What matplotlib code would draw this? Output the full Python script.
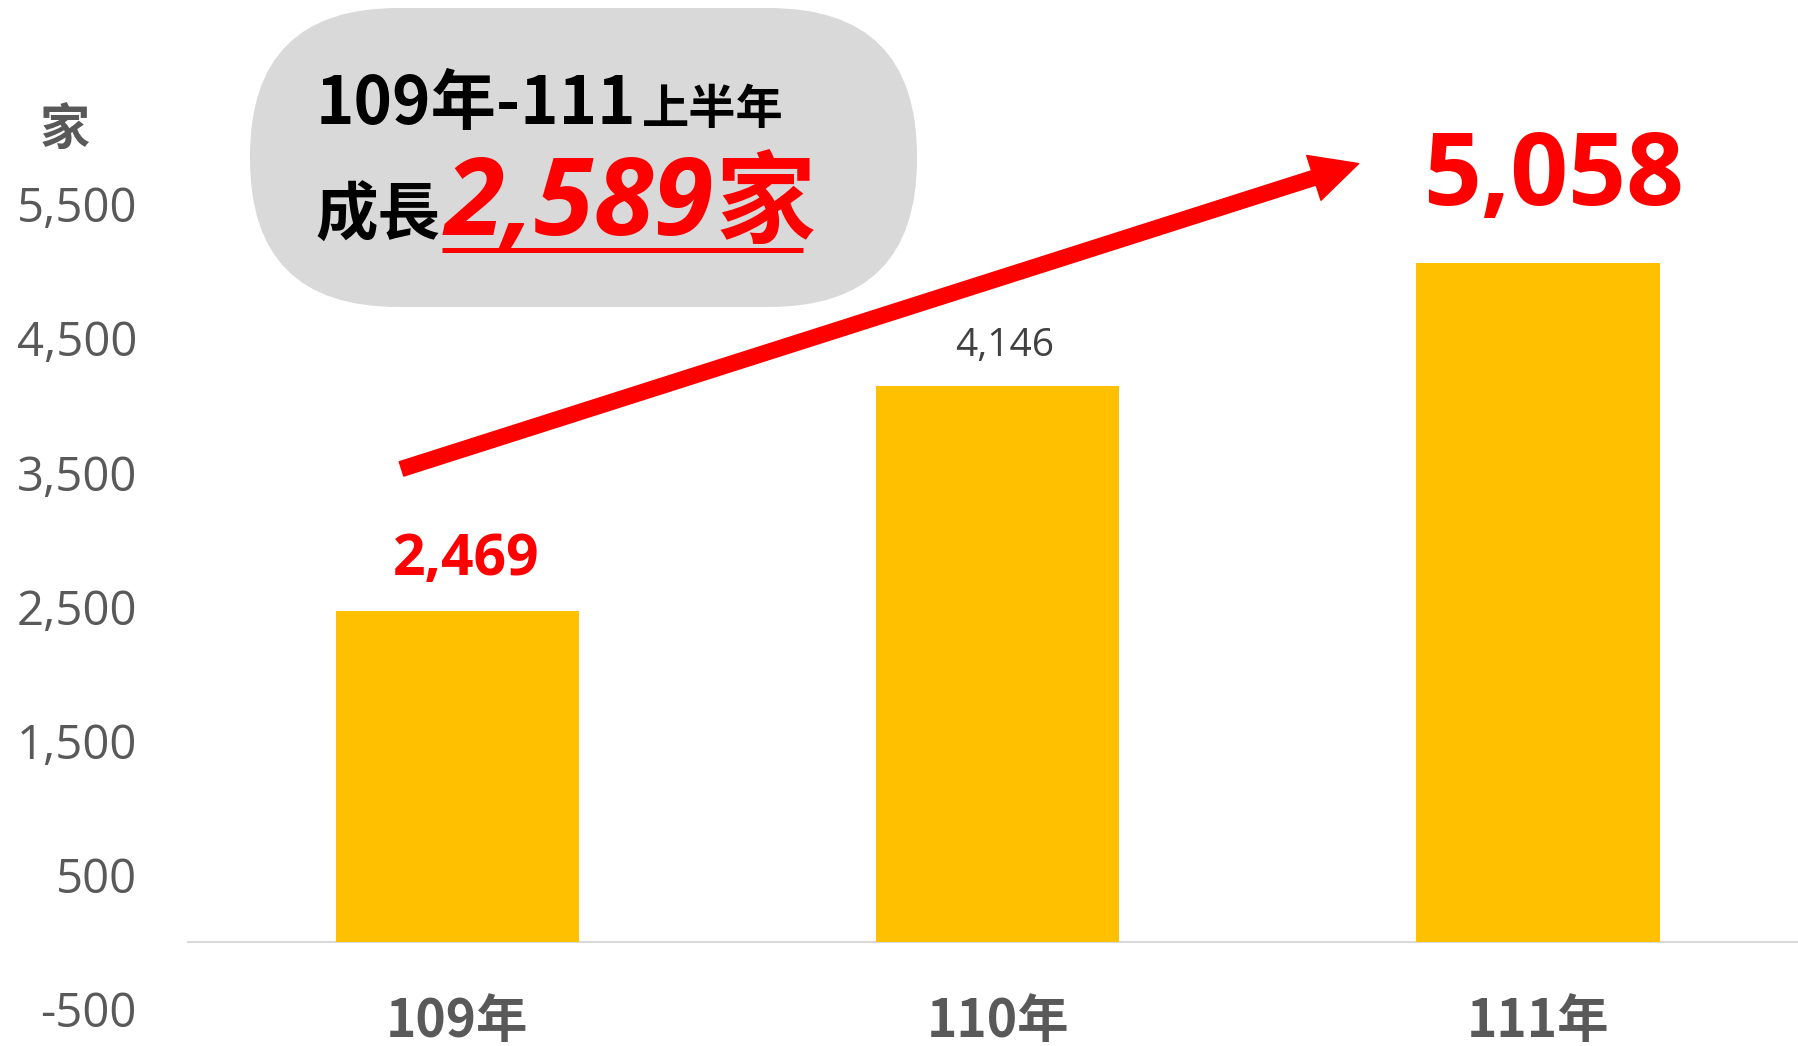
"""
plot.py
Store counts 109-111 with growth callout.
"""

import matplotlib
matplotlib.use("Agg")
import matplotlib.pyplot as plt
from matplotlib import font_manager
from matplotlib.font_manager import FontProperties
from matplotlib.patches import FancyBboxPatch
from matplotlib.ticker import FuncFormatter

categories = ["109年", "110年", "111年"]
counts = [2469, 4146, 5058]
yticks = [-500, 500, 1500, 2500, 3500, 4500, 5500]
unit_label = "家"
growth_title = "109年-111"
growth_sub = "上半年"
growth_word = "成長"
growth_digits = "2,589"
growth_unit = "家"

BAR = "#FFC000"
RED = "#FF0000"
GREY = "#595959"
BUBBLE = "#D9D9D9"

CJK = ["Noto Sans CJK TC", "DejaVu Sans"]
NUM = ["Open Sans", "Noto Sans CJK TC", "DejaVu Sans"]

# bold italic face for the growth number
ital_path = font_manager.findfont(FontProperties(family="Open Sans", style="italic", weight="bold"))
ITAL = FontProperties(fname=ital_path, size=78)

W, H = 1798, 1046
fig = plt.figure(figsize=(W / 100, H / 100), dpi=100)

ax = fig.add_axes([187 / W, 0, 1 - 187 / W, 1])
x = range(len(categories))
ax.bar(x, counts, width=0.45, color=BAR, zorder=2)
ax.axhline(0, color=BUBBLE, linewidth=1.5, zorder=1)
ax.set_xlim(-0.5, 2.481)
ax.set_ylim(-775, 7019)
for side in ax.spines.values():
    side.set_visible(False)
ax.set_xticks([])
ax.set_yticks(yticks)
ax.yaxis.set_major_formatter(FuncFormatter(lambda v, p: f"{int(v):,}"))
ax.tick_params(axis="y", length=0, pad=36, labelsize=34, labelcolor=GREY)
for lab in ax.get_yticklabels():
    lab.set_family(NUM)

# category labels sit inside the figure below the baseline
for i, name in enumerate(categories):
    ax.text(i, -590, name, ha="center", va="center", fontsize=37,
            fontweight="bold", color=GREY, family=CJK)

# value labels
ax.annotate(f"{counts[0]:,}", (0, counts[0]), xytext=(6.5, 36.5),
            textcoords="offset points", ha="center", va="center",
            fontsize=41, fontweight="bold", color=RED, family=NUM)
ax.annotate(f"{counts[1]:,}", (1, counts[1]), xytext=(5, 28.5),
            textcoords="offset points", ha="center", va="center",
            fontsize=28, color="#404040", family=NUM)
ax.annotate(f"{counts[2]:,}", (2, counts[2]), xytext=(11, 61),
            textcoords="offset points", ha="center", va="center",
            fontsize=73, fontweight="bold", color=RED, family=NUM)

# growth arrow
ax.annotate("", xy=(1.668, 5800), xytext=(-0.103, 3525),
            arrowprops=dict(arrowstyle="simple,head_length=0.47,head_width=0.47,tail_width=0.15",
                            mutation_scale=72, color=RED, shrinkA=0, shrinkB=0),
            zorder=3)

fig.text(65 / W, 1 - 131 / H, unit_label, ha="center", va="center",
         fontsize=36, fontweight="bold", color=GREY, family=CJK)

# callout bubble, drawn in pixel coordinates
ov = fig.add_axes([0, 0, 1, 1])
ov.set_xlim(0, W)
ov.set_ylim(H, 0)
ov.axis("off")
ov.add_patch(FancyBboxPatch((250, 8), 667, 299,
                            boxstyle="round,pad=0,rounding_size=148",
                            facecolor=BUBBLE, edgecolor="none"))
ov.text(316, 124, growth_title, ha="left", va="baseline", fontsize=47,
        fontweight="bold", color="black", family=CJK)
ov.text(642, 124, growth_sub, ha="left", va="baseline", fontsize=34,
        fontweight="bold", color="black", family=CJK)
ov.text(315, 235, growth_word, ha="left", va="baseline", fontsize=45,
        fontweight="bold", color="black", family=CJK)
ov.text(445, 235, growth_digits, ha="left", va="baseline",
        fontproperties=ITAL, color=RED)
ov.text(816, 235, growth_unit, ha="right", va="baseline", fontsize=72,
        fontweight="bold", color=RED, family=CJK)
ov.plot([442, 803], [250, 250], color=RED, linewidth=3.6, solid_capstyle="butt")

fig.savefig("out.png", dpi=100)
